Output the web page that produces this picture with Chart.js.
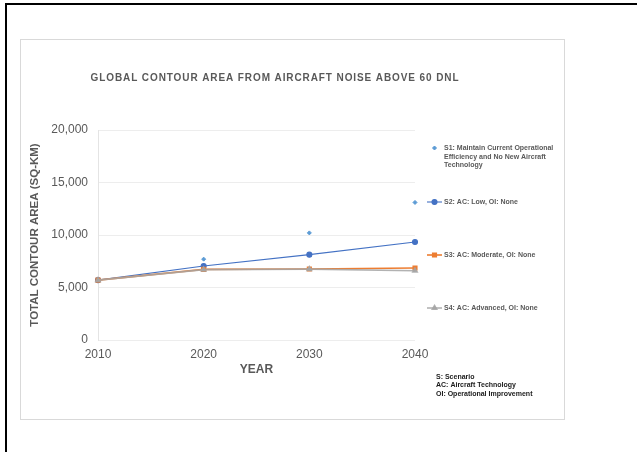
<!DOCTYPE html>
<html>
<head>
<meta charset="utf-8">
<script src="https://cdn.jsdelivr.net/npm/chart.js@4.4.1/dist/chart.umd.min.js"></script>
<style>
  html, body { margin: 0; padding: 0; background: #fff; }
  #wrap { position: relative; width: 637px; height: 452px; }
</style>
</head>
<body>
<div id="wrap"><canvas id="noiseCanvas" width="637" height="452"></canvas></div>
<script>
// chart values
var years = ['2010', '2020', '2030', '2040'];
var s1Area = [5700, 7700, 10200, 13100];
var s2Area = [5700, 7050, 8130, 9330];
var s3Area = [5700, 6730, 6760, 6860];
var s4Area = [5700, 6700, 6750, 6600];

var seriesNames = ['S1', 'S2', 'S3', 'S4'];
var legendText = [
    ['S1: Maintain Current Operational', 'Efficiency and No New Aircraft', 'Technology'],
    ['S2: AC: Low, OI: None'],
    ['S3: AC: Moderate, OI: None'],
    ['S4: AC: Advanced, OI: None']
];
var noteText = ['S: Scenario', 'AC: Aircraft Technology', 'OI: Operational Improvement'];
var chartTitle = 'GLOBAL CONTOUR AREA FROM AIRCRAFT NOISE ABOVE 60 DNL';

var FONT = '"Liberation Sans", Arial, sans-serif';
var GREY_TEXT = '#595959';

// frame, title and side legend, drawn on the same canvas
var framePlugin = {
    id: 'frame',
    beforeDraw: function (chart) {
        var ctx = chart.ctx;
        ctx.save();
        ctx.fillStyle = '#fff';
        ctx.fillRect(0, 0, chart.width, chart.height);
        ctx.strokeStyle = '#d9d9d9';
        ctx.lineWidth = 1;
        ctx.strokeRect(20.5, 39.5, 544, 380);
        ctx.fillStyle = '#000';
        ctx.fillRect(5, 3, chart.width - 5, 2);
        ctx.fillRect(5, 3, 2, chart.height - 3);

        ctx.fillStyle = GREY_TEXT;
        ctx.font = 'bold 10px ' + FONT;
        ctx.letterSpacing = '0.9px';
        ctx.textAlign = 'center';
        ctx.textBaseline = 'middle';
        ctx.fillText(chartTitle, 275, 78);
        ctx.restore();
    },
    afterDraw: function (chart) {
        var ctx = chart.ctx;
        var rowY = [148, 202, 255, 308];
        ctx.save();
        ctx.font = 'bold 7px ' + FONT;
        ctx.textBaseline = 'middle';
        chart.data.datasets.forEach(function (ds, i) {
            var y = rowY[i];
            if (ds.showLine !== false) {
                ctx.strokeStyle = ds.borderColor;
                ctx.lineWidth = ds.borderWidth;
                ctx.beginPath();
                ctx.moveTo(427, y);
                ctx.lineTo(442, y);
                ctx.stroke();
            }
            ctx.fillStyle = ds.pointBackgroundColor;
            ctx.strokeStyle = ds.pointBorderColor;
            Chart.helpers.drawPoint(ctx, {
                pointStyle: ds.pointStyle,
                rotation: 0,
                radius: ds.pointRadius,
                borderWidth: 1
            }, 434.5, y);
            ctx.fillStyle = GREY_TEXT;
            legendText[i].forEach(function (line, k) {
                ctx.fillText(line, 444, y + k * 8.6);
            });
        });
        ctx.fillStyle = '#1a1a1a';
        noteText.forEach(function (line, k) {
            ctx.fillText(line, 436, 377 + k * 8.4);
        });
        ctx.restore();
    }
};

function makeSeries(name, data, color, style, radius, width, showLine, order) {
    return {
        label: name,
        data: data,
        borderColor: color,
        backgroundColor: color,
        pointBackgroundColor: color,
        pointBorderColor: color,
        pointStyle: style,
        pointRadius: radius,
        pointHoverRadius: radius,
        borderWidth: width,
        showLine: showLine,
        order: order
    };
}

var chartdata = {
    labels: years,
    datasets: [
        makeSeries(seriesNames[0], s1Area, '#5b9bd5', 'rectRot', 2, 1, false, 3),
        makeSeries(seriesNames[1], s2Area, '#4472c4', 'circle', 2.5, 1.1, true, 2),
        makeSeries(seriesNames[2], s3Area, '#ed7d31', 'rect', 2.5, 1.6, true, 1),
        makeSeries(seriesNames[3], s4Area, 'rgba(165,165,165,0.85)', 'triangle', 2.5, 1.6, true, 0)
    ]
};

new Chart(document.getElementById('noiseCanvas'), {
    type: 'line',
    data: chartdata,
    plugins: [framePlugin],
    options: {
        responsive: false,
        animation: false,
        devicePixelRatio: 1,
        layout: { padding: { left: 24, right: 222, top: 130, bottom: 70 } },
        plugins: {
            legend: { display: false },
            tooltip: { enabled: false },
            title: { display: false }
        },
        scales: {
            x: {
                offset: false,
                grid: { display: false, drawTicks: false },
                border: { display: false },
                ticks: { color: GREY_TEXT, padding: 7, font: { family: FONT, size: 12 }, maxRotation: 0 },
                title: {
                    display: true,
                    text: 'YEAR',
                    color: GREY_TEXT,
                    font: { family: FONT, size: 12, weight: 'bold' },
                    padding: { top: 4, bottom: 5 }
                },
                afterFit: function (s) { s.height = 42; }
            },
            y: {
                min: 0,
                max: 20000,
                ticks: {
                    stepSize: 5000,
                    color: GREY_TEXT,
                    padding: 10,
                    font: { family: FONT, size: 12 }
                },
                grid: { color: '#ededed', drawTicks: false },
                border: { display: true, color: '#e4e4e4' },
                title: {
                    display: true,
                    text: 'TOTAL CONTOUR AREA (SQ-KM)',
                    color: GREY_TEXT,
                    font: { family: FONT, size: 11.5, weight: 'bold' },
                    padding: { top: 4, bottom: 4 }
                },
                afterFit: function (s) { s.width = 74; }
            }
        }
    }
});
</script>
</body>
</html>
